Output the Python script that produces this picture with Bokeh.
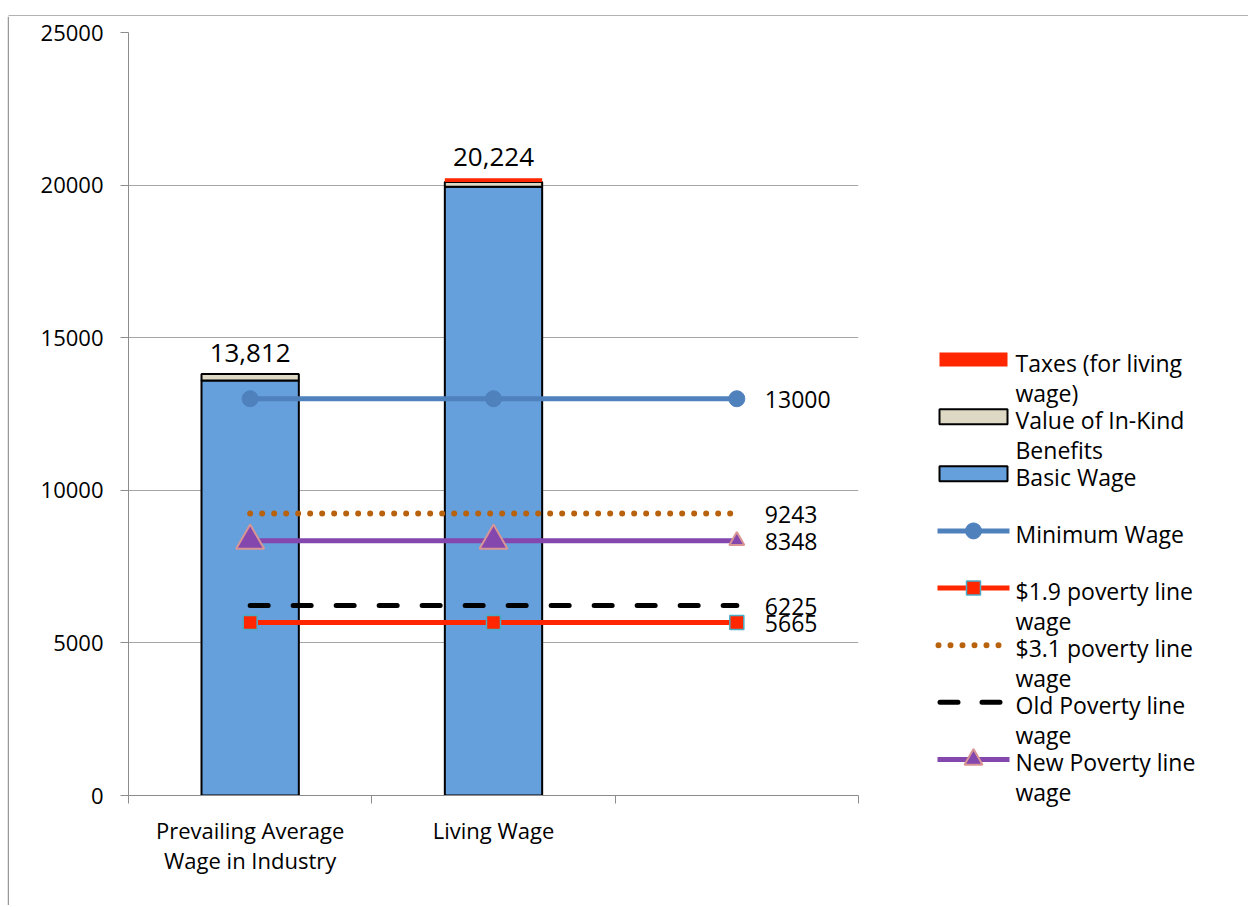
import numpy as np
from bokeh.plotting import figure
from bokeh.layouts import row, column
from bokeh.models import ColumnDataSource, FixedTicker, Range1d
from bokeh.core.properties import value
from bokeh.embed import file_html
from bokeh.resources import INLINE

# ---------------- data ----------------
categories = ["Prevailing Average\nWage in Industry", "Living Wage", ""]
basic_wage = [13600, 19950]
in_kind_benefits = [212, 150]
taxes = [0, 124]
total_labels = ["13,812", "20,224"]

minimum_wage = [13000, 13000, 13000]
poverty_19 = [5665, 5665, 5665]
poverty_31 = [9243, 9243, 9243]
old_poverty = [6225, 6225, 6225]
new_poverty = [8348, 8348, 8348]

y_ticks = [0, 5000, 10000, 15000, 20000, 25000]

legend_labels = [
    "Taxes (for living\nwage)",
    "Value of In-Kind\nBenefits",
    "Basic Wage",
    "Minimum Wage",
    "$1.9 poverty line\nwage",
    "$3.1 poverty line\nwage",
    "Old Poverty line\nwage",
    "New Poverty line\nwage",
]

# ---------------- styles ----------------
FONT = "Open Sans"
BLUE_BAR = "#659FDC"
BEIGE = "#DDD9C4"
RED = "#FF2600"
MW_BLUE = "#4F81BD"
BROWN = "#B8620E"
PURPLE = "#8347AD"
TRI_EDGE = "#D99594"
SQ_EDGE = "#4BACC6"
GRID = "#A6A6A6"
AXIS = "#8C8C8C"
BORDER = "#999999"

TOP_H = 16            # strip holding the chart's top border line
W_STRIP = 9           # strip holding the chart's left border line
W_MAIN = 863
W_LEG = 376
H = 889
W_ALL = W_STRIP + W_MAIN + W_LEG


def no_align(fig):
    if hasattr(type(fig), "frame_align"):
        fig.frame_align = False


def blank(width, height, xr, yr):
    f = figure(width=width, height=height, x_range=xr, y_range=yr,
               output_backend="svg", toolbar_location=None, title=None, min_border=0,
               x_axis_location=None, y_axis_location=None)
    f.grid.visible = False
    f.outline_line_color = None
    f.background_fill_color = "white"
    f.border_fill_color = "white"
    no_align(f)
    return f


# ---------------- top border strip ----------------
top = blank(W_ALL, TOP_H, Range1d(0, W_ALL), Range1d(TOP_H, 0))
top.segment(x0=[8], x1=[W_ALL], y0=[15.5], y1=[15.5], line_color=BORDER, line_width=1.5)

# ---------------- left border strip ----------------
left = blank(W_STRIP, H, Range1d(0, W_STRIP), Range1d(TOP_H + H, TOP_H))
left.segment(x0=[8], x1=[8], y0=[TOP_H], y1=[TOP_H + H], line_color=BORDER, line_width=1.5)

# ---------------- main chart ----------------
p = figure(width=W_MAIN, height=H,
           x_range=Range1d(0, len(categories)), y_range=Range1d(0, 25000),
           output_backend="svg", toolbar_location=None, title=None,
           min_border_left=128 - W_STRIP, min_border_right=W_MAIN - (128 - W_STRIP) - 730,
           min_border_top=32 - TOP_H, min_border_bottom=H - (32 - TOP_H) - 763)
no_align(p)
p.outline_line_color = None
p.background_fill_color = "white"
p.border_fill_color = "white"

xs = [i + 0.5 for i in range(len(categories))]

p.xaxis.ticker = FixedTicker(ticks=xs, minor_ticks=list(range(len(categories) + 1)))
p.xaxis.major_label_overrides = {x: c for x, c in zip(xs, categories)}
p.xaxis.major_tick_line_color = None
p.xaxis.major_tick_out = 0
p.xaxis.major_tick_in = 0
p.xaxis.minor_tick_out = 8
p.xaxis.minor_tick_in = 0
p.xaxis.minor_tick_line_color = AXIS
p.xaxis.axis_line_color = AXIS
p.xaxis.major_label_standoff = 11
p.xaxis.major_label_text_font = FONT
p.xaxis.major_label_text_font_size = "22px"
p.xaxis.major_label_text_line_height = 1.0
p.xaxis.major_label_text_color = "black"

p.yaxis.ticker = FixedTicker(ticks=y_ticks)
p.yaxis.axis_line_color = AXIS
p.yaxis.major_tick_line_color = AXIS
p.yaxis.major_tick_out = 8
p.yaxis.major_tick_in = 0
p.yaxis.minor_tick_line_color = None
p.yaxis.major_label_standoff = 17
p.yaxis.major_label_text_font = FONT
p.yaxis.major_label_text_font_size = "22px"
p.yaxis.major_label_text_color = "black"

p.xgrid.visible = False
p.ygrid.ticker = FixedTicker(ticks=y_ticks)
p.ygrid.grid_line_color = GRID

# stacked bars
basic = np.array(basic_wage, dtype=float)
ik_top = basic + np.array(in_kind_benefits, dtype=float)
tx_top = ik_top + np.array(taxes, dtype=float)
bar_src = ColumnDataSource(dict(x=xs[:len(basic_wage)], basic=basic, ik_top=ik_top,
                                tx_top=tx_top, label=total_labels))
p.vbar(x="x", width=0.4, bottom=0, top="basic", source=bar_src,
       fill_color=BLUE_BAR, line_color="black", line_width=2)
p.vbar(x="x", width=0.4, bottom="basic", top="ik_top", source=bar_src,
       fill_color=BEIGE, line_color="black", line_width=2)
p.vbar(x="x", width=0.4, bottom="ik_top", top="tx_top", source=bar_src,
       fill_color=RED, line_color=None)
p.text(x="x", y="tx_top", text="label", source=bar_src, text_align="center",
       text_baseline="middle", y_offset=-21, text_font=value(FONT),
       text_font_size="26px", text_color="black")

# lines
p.line(xs, minimum_wage, line_color=MW_BLUE, line_width=5)
p.scatter(xs, minimum_wage, marker="circle", size=16, fill_color=MW_BLUE, line_color=MW_BLUE)

p.line(xs, poverty_31, line_color=BROWN, line_width=6, line_dash="0 12", line_cap="round")

p.line(xs, old_poverty, line_color="black", line_width=5, line_dash="18 25", line_cap="round")

p.line(xs, poverty_19, line_color=RED, line_width=5)
p.scatter(xs, poverty_19, marker="square", size=14, fill_color=RED, line_color=SQ_EDGE, line_width=1.5)

p.line(xs, new_poverty, line_color=PURPLE, line_width=5)
tri_src = ColumnDataSource(dict(x=xs, y=new_poverty, s=[28, 28, 15]))
p.scatter(x="x", y="y", size="s", source=tri_src, marker="triangle",
          fill_color=PURPLE, line_color=TRI_EDGE, line_width=2)

# end-of-line value labels
series_end = [minimum_wage, poverty_31, new_poverty, old_poverty, poverty_19]
end_src = ColumnDataSource(dict(x=[xs[-1]] * len(series_end),
                                y=[s[-1] for s in series_end],
                                t=[str(s[-1]) for s in series_end]))
p.text(x="x", y="y", text="t", source=end_src, x_offset=28, y_offset=1,
       text_align="left", text_baseline="middle", text_font=value(FONT),
       text_font_size="23px", text_color="black")

# ---------------- legend panel (page pixel coordinates) ----------------
X0 = W_STRIP + W_MAIN
lg = blank(W_LEG, H, Range1d(X0, X0 + W_LEG), Range1d(TOP_H + H, TOP_H))

LX0, LX1, LXM, LTX = 937, 1009, 973, 1015
TEXT0, STEP, LINE_H, GOFF = 362, 57.14, 30, 3
tcen = [TEXT0 + i * STEP for i in range(len(legend_labels))]
cen = [t - GOFF for t in tcen]

lg.quad(left=[939], right=[1007], top=[cen[0] - 7], bottom=[cen[0] + 7], fill_color=RED, line_color=None)
lg.quad(left=[939], right=[1007], top=[cen[1] - 7.5], bottom=[cen[1] + 7.5], fill_color=BEIGE,
        line_color="black", line_width=2)
lg.quad(left=[939], right=[1007], top=[cen[2] - 7.5], bottom=[cen[2] + 7.5], fill_color=BLUE_BAR,
        line_color="black", line_width=2)
lg.line([LX0, LX1], [cen[3]] * 2, line_color=MW_BLUE, line_width=5)
lg.scatter([LXM], [cen[3]], marker="circle", size=16, fill_color=MW_BLUE, line_color=MW_BLUE)
lg.line([LX0, LX1], [cen[4]] * 2, line_color=RED, line_width=5)
lg.scatter([LXM], [cen[4]], marker="square", size=14, fill_color=RED, line_color=SQ_EDGE, line_width=1.5)
lg.line([938, 1000], [cen[5]] * 2, line_color=BROWN, line_width=6, line_dash="0 12", line_cap="round")
lg.line([939.5, 1003], [cen[6]] * 2, line_color="black", line_width=5, line_dash="18 24", line_cap="round")
lg.line([LX0, LX1], [cen[7]] * 2, line_color=PURPLE, line_width=5)
lg.scatter([LXM], [cen[7]], marker="triangle", size=18, fill_color=PURPLE, line_color=TRI_EDGE, line_width=2)

tx, ty, tt = [], [], []
for c, lab in zip(tcen, legend_labels):
    for j, ln in enumerate(lab.split("\n")):
        tx.append(LTX)
        ty.append(c + j * LINE_H)
        tt.append(ln)
lg.text(x=tx, y=ty, text=tt, text_align="left", text_baseline="middle",
        text_font=value(FONT), text_font_size="23px", text_color="black")

layout = column(top, row(left, p, lg))
open("out.html", "w").write(file_html(layout, INLINE))
